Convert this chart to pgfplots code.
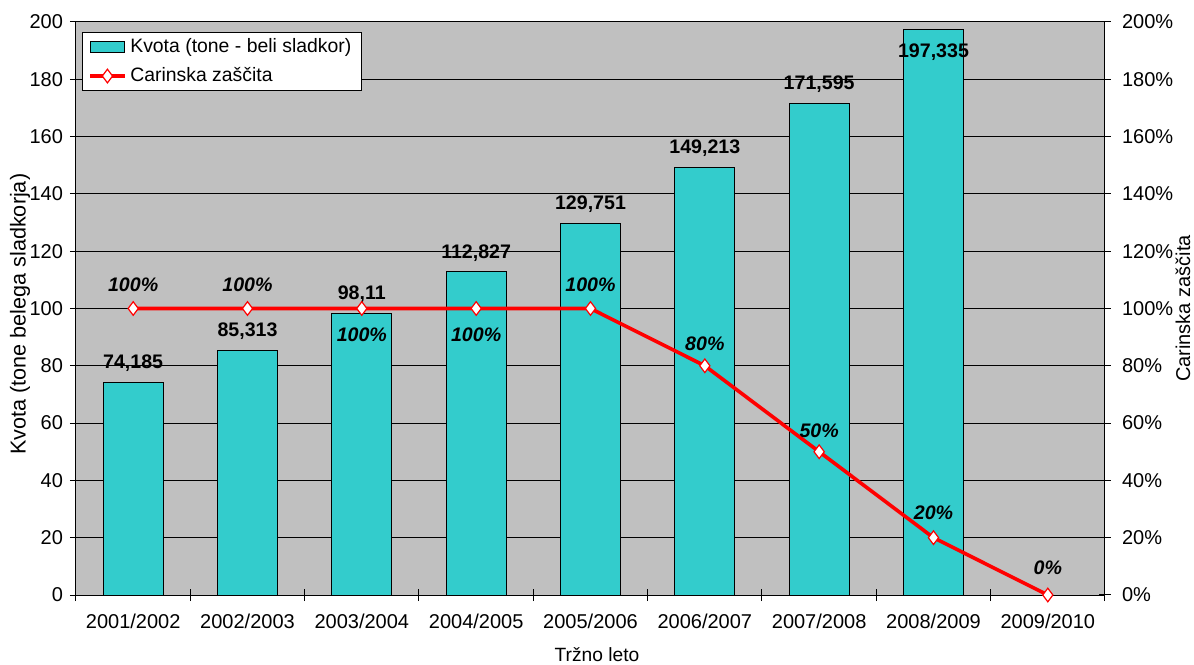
\documentclass[border=0pt]{standalone}
\usepackage{fontspec}
\setmainfont{Liberation Sans}
\usepackage{pgfplots}
\pgfplotsset{compat=1.18}
\usepackage{pgfplotstable}

\definecolor{plotgray}{HTML}{C0C0C0}
\definecolor{kvota}{HTML}{33CCCC}
\definecolor{zascita}{HTML}{FF0000}

% Sugar quota per marketing year (label text, label offset in pt)
\pgfplotstableread{
x y lab dy
0 74.185 74,185 9.5
1 85.313 85,313 9.5
2 98.11 98,11 10
3 112.827 112,827 9.5
4 129.751 129,751 9.5
5 149.213 149,213 9.5
6 171.595 171,595 9.5
7 197.335 197,335 -11.5
}\kvotatab

% Customs protection in percent (label offset in pt)
\pgfplotstableread{
x y dy
0 100 12
1 100 12
2 100 -13.3
3 100 -13.3
4 100 12
5 80 11
6 50 10.5
7 20 12.5
8 0 13.5
}\zascitatab

\newcommand\tickfont{\fontsize{10}{12}\selectfont}
\newcommand\legfont{\fontsize{9.7}{11.5}\selectfont}

\begin{document}
\begin{tikzpicture}
\begin{axis}[
  name=main,
  scale only axis, width=514.5pt, height=286.5pt,
  xmin=-0.5, xmax=8.5, ymin=0, ymax=200,
  clip=false,
  axis background/.style={fill=plotgray},
  axis line style={black, line width=0.5pt},
  xtick={0,...,8},
  xticklabels={2001/2002,2002/2003,2003/2004,2004/2005,2005/2006,2006/2007,2007/2008,2008/2009,2009/2010},
  minor xtick={-0.5,0.5,...,8.5},
  major x tick style={draw=none},
  ytick={0,20,...,200},
  xtick pos=bottom, ytick pos=left,
  ymajorgrids, grid style={black, line width=0.5pt},
  tick align=center, major tick length=6pt, minor tick length=6pt,
  tick style={black, line width=0.5pt},
  tick label style={font=\tickfont},
  /pgf/number format/assume math mode=true,
  xticklabel style={yshift=-3pt},
  ylabel={Kvota (tone belega sladkorja)},
  ylabel style={at={(axis description cs:-0.0544,0.49)}, anchor=center,
    font=\fontsize{10.8}{13}\selectfont},
  xlabel={Tržno leto},
  xlabel style={at={(axis description cs:0.5063,-0.1047)}, anchor=center,
    font=\fontsize{9.6}{11.5}\selectfont},
  legend style={at={(0.006,0.9825)}, anchor=north west, draw=black, fill=white,
    font=\legfont, inner xsep=3pt, inner ysep=1pt, row sep=2pt},
  legend cell align=left,
]
\addplot[ybar, bar width=30pt, fill=kvota, draw=black, line width=0.5pt, area legend,
  point meta=explicit symbolic,
  visualization depends on={\thisrow{dy} \as \labdy},
  nodes near coords,
  every node near coord/.append style={anchor=center, yshift=\labdy,
    font=\fontsize{9.8}{11}\selectfont\bfseries, text=black}]
  table[x=x, y=y, meta=lab] {\kvotatab};
\addlegendentry{Kvota (tone - beli sladkor)}

\addplot[zascita, line width=1.8pt, mark=diamond*,
  mark size=3.4pt,
  mark options={fill=white, draw=zascita, line width=0.6pt},
  point meta=y,
  visualization depends on={\thisrow{dy} \as \labdy},
  nodes near coords={\pgfmathprintnumber{\pgfplotspointmeta}\%},
  every node near coord/.append style={anchor=center, yshift=\labdy,
    font=\fontsize{9.8}{11}\selectfont\bfseries\itshape, text=black}]
  table[x=x, y=y] {\zascitatab};
\addlegendentry{Carinska zaščita}
\end{axis}

\begin{axis}[
  scale only axis, width=514.5pt, height=286.5pt,
  at={(main.south west)}, anchor=south west,
  xmin=-0.5, xmax=8.5, ymin=0, ymax=200,
  axis x line=none, axis y line*=right,
  axis line style={black, line width=0.5pt},
  ytick={0,20,...,200},
  yticklabel={\pgfmathprintnumber{\tick}\%},
  tick align=center, major tick length=6pt,
  tick style={black, line width=0.5pt},
  tick label style={font=\tickfont},
  yticklabel style={xshift=2pt},
  /pgf/number format/assume math mode=true,
  ylabel={Carinska zaščita},
  ylabel style={at={(axis description cs:1.0758,0.5)}, anchor=center,
    font=\fontsize{10}{12}\selectfont},
]
\addplot[draw=none] coordinates {(0,0)};
\end{axis}

\pgfresetboundingbox
\path (main.south west) ++(-38pt,-34.5pt) rectangle ++(597pt,332pt);
\end{tikzpicture}
\end{document}
